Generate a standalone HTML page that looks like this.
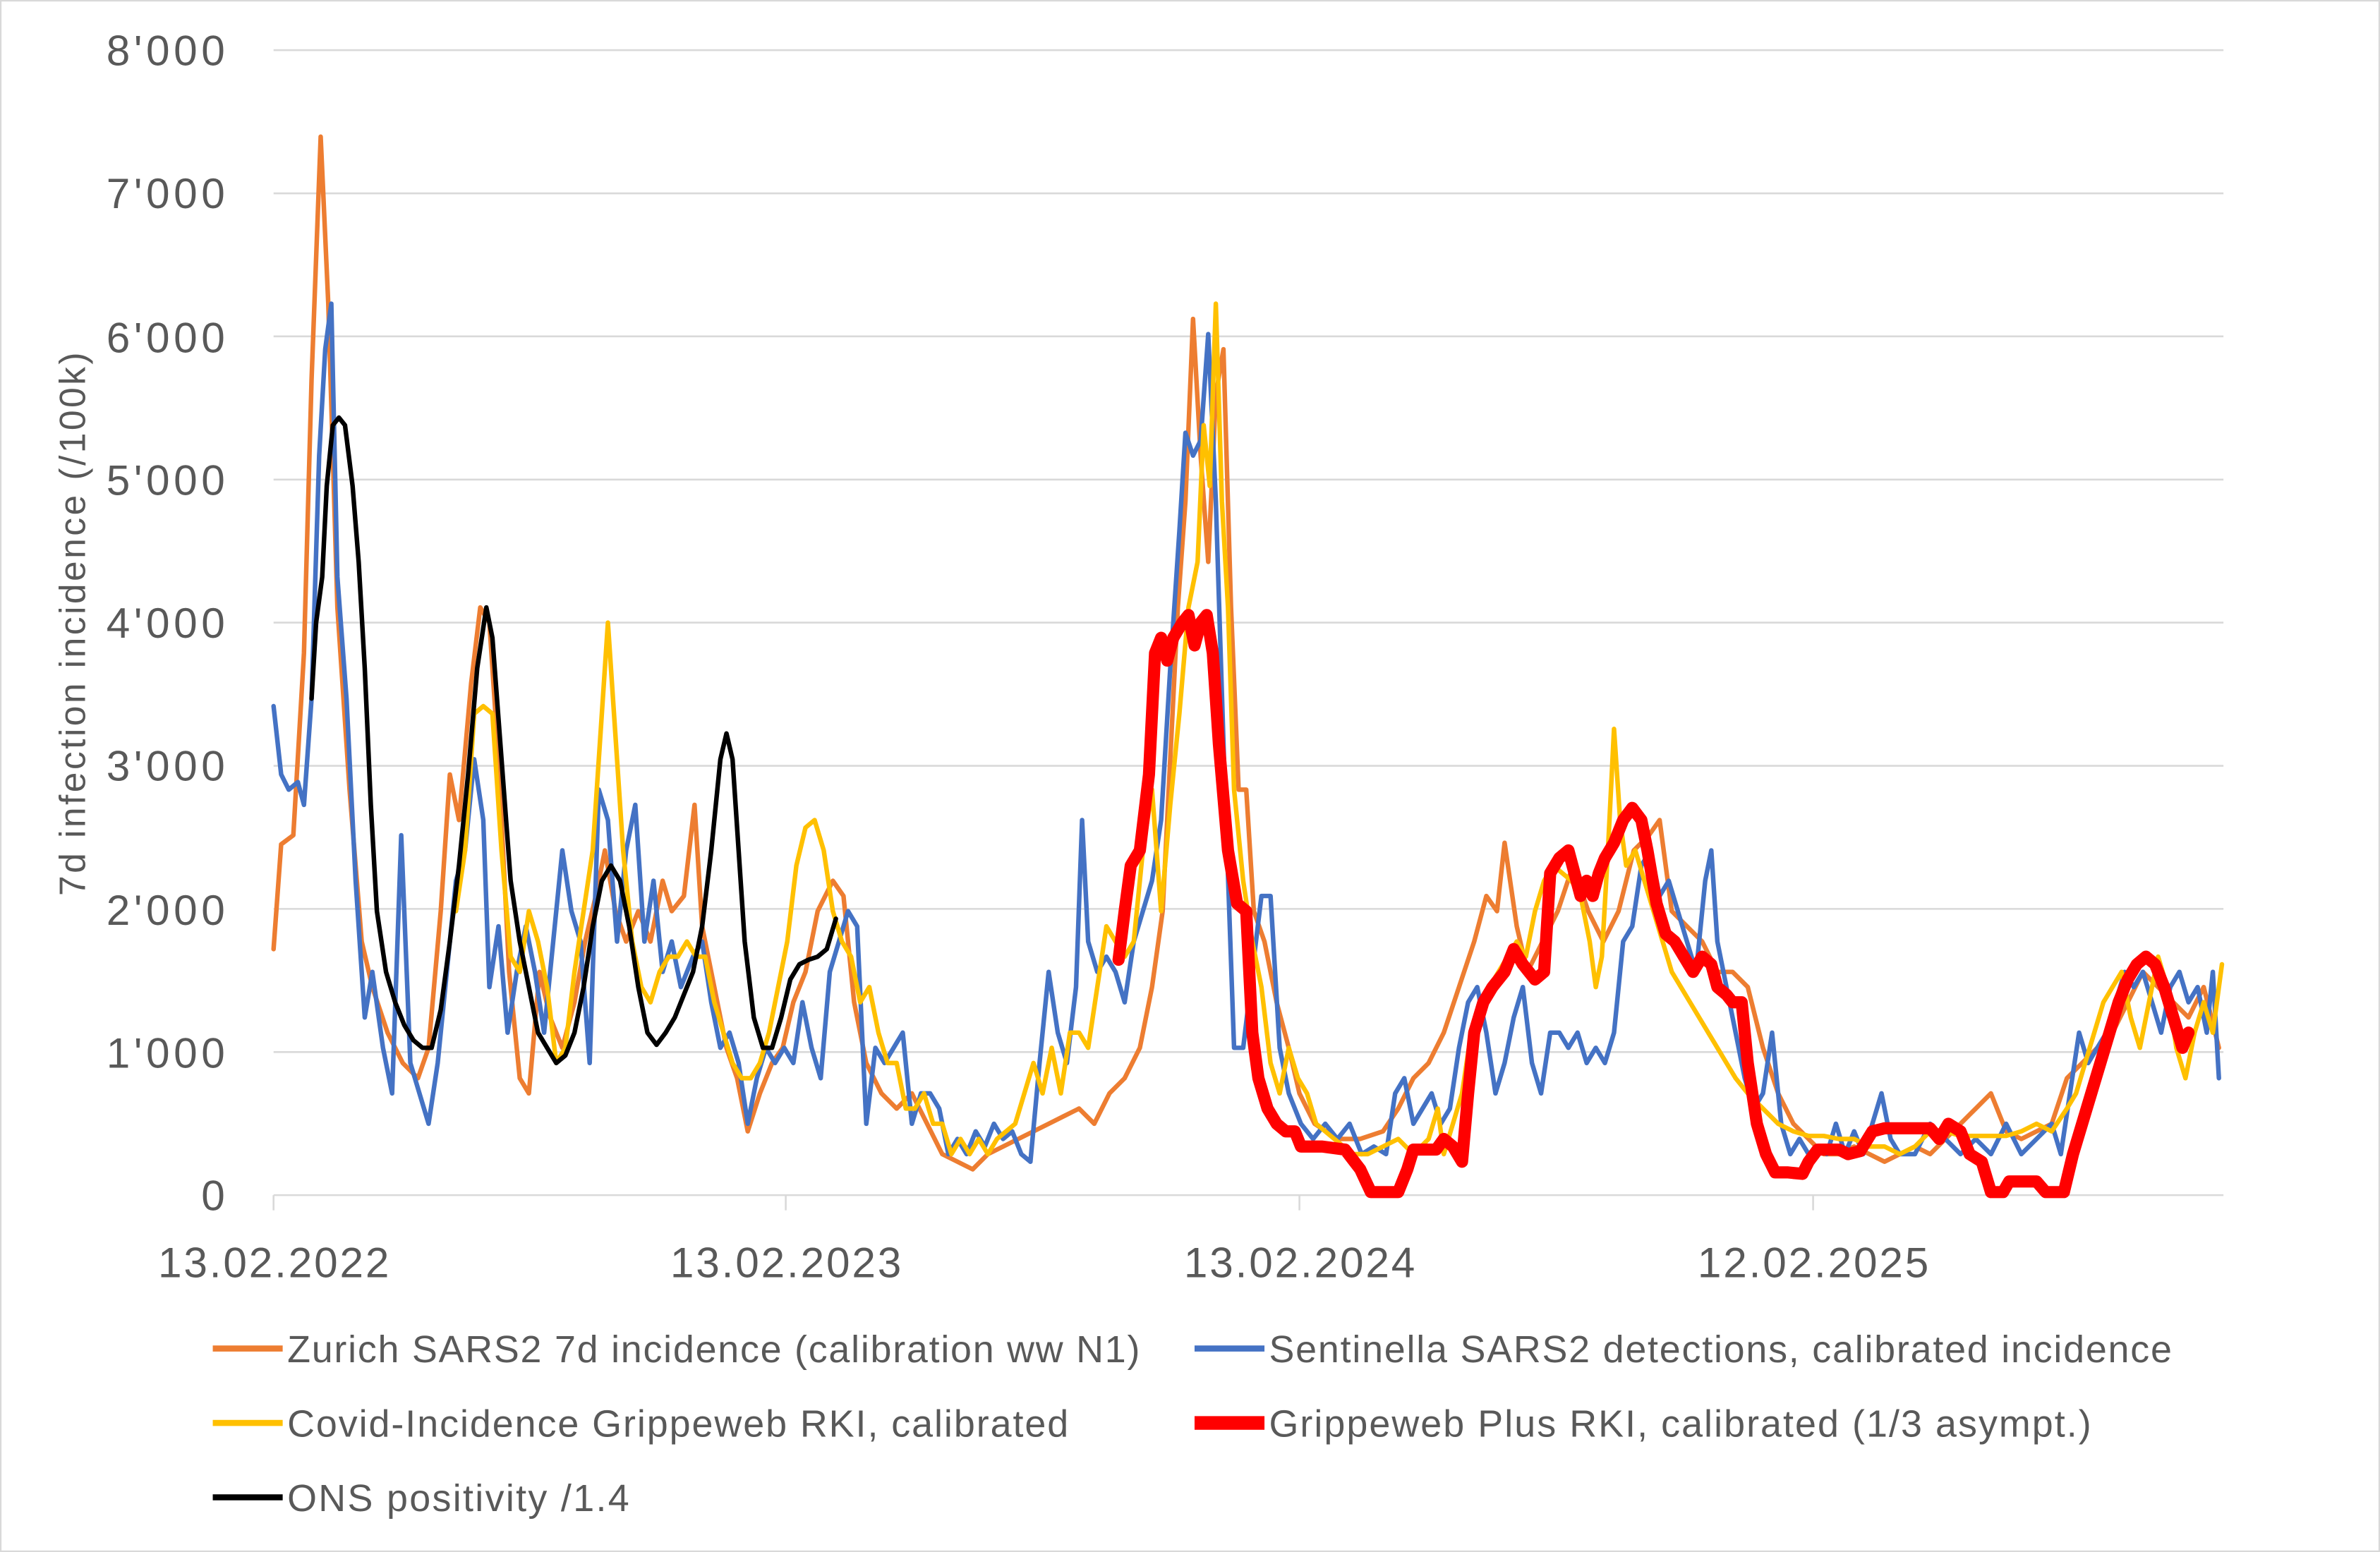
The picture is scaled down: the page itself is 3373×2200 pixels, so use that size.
<!DOCTYPE html>
<html><head><meta charset="utf-8"><style>html,body{margin:0;padding:0;background:#fff}svg{display:block}</style></head><body>
<svg width="3373" height="2200" viewBox="0 0 1566 1022" preserveAspectRatio="none" xmlns="http://www.w3.org/2000/svg" font-family="Liberation Sans, sans-serif">
<rect x="0.5" y="0.5" width="1565" height="1021" fill="#fff" stroke="#d9d9d9"/>
<g stroke="#d9d9d9" stroke-width="1.2">
<line x1="180" x2="1463" y1="33" y2="33"/><line x1="180" x2="1463" y1="127.3" y2="127.3"/><line x1="180" x2="1463" y1="221.5" y2="221.5"/><line x1="180" x2="1463" y1="315.8" y2="315.8"/><line x1="180" x2="1463" y1="410" y2="410"/><line x1="180" x2="1463" y1="504.3" y2="504.3"/><line x1="180" x2="1463" y1="598.5" y2="598.5"/><line x1="180" x2="1463" y1="692.8" y2="692.8"/><line x1="180" x2="1463" y1="787" y2="787"/>
<line x1="180" x2="180" y1="787" y2="797"/><line x1="517" x2="517" y1="787" y2="797"/><line x1="855" x2="855" y1="787" y2="797"/><line x1="1193" x2="1193" y1="787" y2="797"/>
</g>
<g font-size="28" fill="#595959" text-anchor="end">
<text x="148" y="43" textLength="78">8'000</text><text x="148" y="137" textLength="78">7'000</text><text x="148" y="232" textLength="78">6'000</text><text x="148" y="326" textLength="78">5'000</text><text x="148" y="420" textLength="78">4'000</text><text x="148" y="514" textLength="78">3'000</text><text x="148" y="609" textLength="78">2'000</text><text x="148" y="703" textLength="78">1'000</text><text x="148" y="797">0</text>
</g>
<g font-size="28" fill="#595959" text-anchor="middle">
<text x="180" y="841" textLength="152">13.02.2022</text><text x="517" y="841" textLength="152">13.02.2023</text><text x="855" y="841" textLength="152">13.02.2024</text><text x="1193" y="841" textLength="152">12.02.2025</text>
</g>
<text transform="translate(56,411) rotate(-90)" font-size="24" fill="#595959" text-anchor="middle" textLength="358">7d infection incidence (/100k)</text>
<g fill="none" stroke-linejoin="round" stroke-linecap="round">
<polyline stroke="#ed7d31" stroke-width="3" points="180,625 185,556 193,550 200,430 205,250 211,90 216,200 222,400 230,520 238,620 245,650 255,680 265,700 275,710 282,690 290,600 296,510 302,540 310,450 316,400 322,410 328,500 335,640 342,710 348,720 355,640 362,670 370,690 378,660 385,620 392,590 398,560 405,600 412,620 420,600 428,620 436,580 442,600 450,590 457,530 462,610 470,650 478,690 485,710 492,745 500,720 508,700 515,690 522,660 530,640 538,600 548,580 555,590 562,660 570,700 580,720 590,730 600,720 610,740 620,760 630,765 640,770 650,760 660,755 670,750 680,745 690,740 700,735 710,730 720,740 730,720 740,710 750,690 758,650 765,600 770,500 775,400 780,330 785,210 790,300 795,370 800,260 805,230 810,400 815,520 820,520 825,600 832,620 840,660 848,690 855,720 865,740 880,750 895,750 910,745 920,730 930,710 940,700 950,680 960,650 970,620 978,590 985,600 990,555 998,610 1005,640 1015,620 1025,600 1035,570 1045,600 1055,620 1065,600 1075,560 1085,550 1092,540 1100,600 1110,610 1120,620 1130,640 1140,640 1150,650 1160,690 1170,720 1180,740 1190,750 1200,760 1210,760 1220,755 1230,760 1240,765 1250,760 1260,755 1270,760 1280,750 1290,740 1300,730 1310,720 1320,745 1330,750 1340,745 1350,740 1360,710 1370,700 1380,690 1390,680 1400,660 1410,640 1420,650 1430,660 1440,670 1450,650 1460,690"/>
<polyline stroke="#4472c4" stroke-width="3" points="180,465 185,510 190,520 196,515 200,530 205,460 210,300 214,230 218,200 222,380 228,460 234,580 240,670 245,640 252,690 258,720 264,550 270,700 276,720 282,740 288,700 294,640 300,580 306,560 312,500 318,540 322,650 328,610 334,680 340,640 346,610 352,640 358,680 364,620 370,560 376,600 382,620 388,700 394,520 400,540 406,620 412,560 418,530 424,620 430,580 436,640 442,620 448,650 456,630 462,620 468,660 474,690 480,680 486,700 492,740 498,710 504,690 510,700 516,690 522,700 528,660 534,690 540,710 546,640 552,620 558,600 564,610 570,740 576,690 582,700 588,690 594,680 600,740 606,720 612,720 618,730 624,760 630,750 636,760 642,745 648,755 654,740 660,750 666,745 672,760 678,765 684,700 690,640 696,680 702,700 708,650 712,540 716,620 722,640 728,630 734,640 740,660 746,620 752,600 758,580 764,540 770,440 776,350 780,285 785,300 790,290 795,220 800,330 806,520 812,690 818,690 824,640 830,590 836,590 842,690 848,720 856,740 864,750 872,740 880,750 888,740 896,760 904,755 912,760 918,720 924,710 930,740 936,730 942,720 948,740 954,730 960,690 966,660 972,650 978,680 984,720 990,700 996,670 1002,650 1008,700 1014,720 1020,680 1026,680 1032,690 1038,680 1044,700 1050,690 1056,700 1062,680 1068,620 1074,610 1080,570 1086,560 1092,590 1098,580 1104,600 1110,620 1116,640 1122,580 1126,560 1130,620 1136,650 1142,680 1148,710 1154,730 1160,720 1166,680 1172,740 1178,760 1184,750 1190,760 1196,755 1202,760 1208,740 1214,760 1220,745 1226,760 1232,740 1238,720 1244,750 1250,760 1260,760 1270,740 1280,750 1290,760 1300,750 1310,760 1320,740 1330,760 1340,750 1350,740 1356,760 1362,720 1368,680 1374,700 1380,690 1386,680 1392,660 1398,640 1404,650 1410,640 1416,660 1422,680 1428,650 1434,640 1440,660 1446,650 1452,680 1456,640 1460,710"/>
<polyline stroke="#ffc000" stroke-width="3" points="300,600 306,560 312,470 318,465 324,470 330,560 336,630 342,640 348,600 354,620 360,650 366,700 372,690 378,640 384,600 390,560 396,470 400,410 404,470 410,560 416,620 422,650 428,660 434,640 440,630 446,630 452,620 458,630 464,630 470,660 476,680 482,700 488,710 494,710 500,700 506,680 512,650 518,620 524,570 530,545 536,540 542,560 548,600 554,620 560,630 566,660 572,650 578,680 584,700 590,700 596,730 602,730 608,720 614,740 620,740 626,760 632,750 638,760 644,750 650,760 656,750 662,745 668,740 674,720 680,700 686,720 692,690 698,720 704,680 710,680 716,690 722,650 728,610 734,620 740,630 746,620 752,560 758,520 764,600 770,530 776,470 782,400 788,370 792,280 796,320 800,200 804,330 808,400 812,520 818,580 824,620 830,650 836,700 842,720 848,690 854,710 860,720 866,740 872,745 878,750 890,760 900,760 910,755 920,750 930,760 940,750 946,730 950,760 956,740 962,720 968,680 974,660 980,650 986,640 992,630 998,620 1004,630 1010,600 1016,580 1022,570 1028,575 1034,580 1040,590 1046,620 1050,650 1054,630 1058,560 1062,480 1066,540 1070,570 1076,560 1082,580 1088,600 1094,620 1100,640 1106,650 1112,660 1118,670 1124,680 1130,690 1136,700 1142,710 1150,720 1160,730 1170,740 1180,745 1190,748 1200,748 1210,750 1220,750 1230,755 1240,755 1250,760 1260,755 1270,745 1280,745 1290,748 1300,748 1310,748 1320,748 1330,745 1340,740 1350,745 1360,730 1366,720 1372,700 1378,680 1384,660 1390,650 1396,640 1402,670 1408,690 1414,660 1420,630 1426,650 1432,690 1438,710 1444,680 1450,660 1456,680 1462,635"/>
<polyline stroke="#ff0000" stroke-width="8" points="736,632 740,600 744,570 750,560 756,510 760,430 764,420 768,435 772,420 778,410 782,405 786,425 790,410 794,405 798,430 802,490 808,560 814,595 820,600 824,680 828,710 834,730 840,740 846,745 852,745 856,755 870,755 885,757 895,770 902,785 920,785 926,770 930,757 945,757 950,750 956,755 962,765 966,720 970,680 976,660 982,650 990,640 996,625 1002,635 1010,645 1016,640 1020,575 1026,565 1032,560 1036,575 1040,590 1044,580 1048,590 1052,575 1056,565 1062,555 1068,540 1074,532 1080,540 1084,560 1090,595 1096,615 1102,620 1108,630 1114,640 1120,630 1126,635 1130,650 1136,655 1140,660 1146,660 1150,700 1156,740 1162,760 1168,772 1176,772 1186,773 1190,765 1196,757 1210,757 1216,760 1224,758 1232,745 1240,743 1270,743 1276,750 1282,740 1290,745 1296,760 1304,765 1310,785 1318,785 1322,778 1340,778 1346,785 1358,785 1364,760 1370,740 1376,720 1382,700 1388,680 1394,660 1400,645 1406,635 1412,630 1418,635 1424,650 1430,670 1436,690 1440,680"/>
<polyline stroke="#000" stroke-width="3" points="205,460 208,410 212,380 215,320 219,280 223,275 227,280 232,320 236,370 240,440 244,530 248,600 254,640 260,660 266,675 272,685 278,690 284,690 290,665 296,620 302,570 308,510 314,440 320,400 324,420 330,500 336,580 342,620 348,650 354,680 360,690 366,700 372,695 378,680 384,650 390,610 396,580 402,570 408,580 414,610 420,650 426,680 432,688 438,680 444,670 450,655 456,640 462,610 468,560 474,500 478,483 482,500 486,560 490,620 496,670 502,690 508,690 514,670 520,645 526,635 532,632 538,630 544,625 550,605"/>
</g>
<g stroke-width="4">
<line x1="140" x2="186" y1="888" y2="888" stroke="#ed7d31"/>
<line x1="786" x2="832" y1="888" y2="888" stroke="#4472c4"/>
<line x1="140" x2="186" y1="937" y2="937" stroke="#ffc000"/>
<line x1="786" x2="832" y1="937" y2="937" stroke="#ff0000" stroke-width="9"/>
<line x1="140" x2="186" y1="986" y2="986" stroke="#000"/>
</g>
<g font-size="25" fill="#595959">
<text x="189" y="897" textLength="561">Zurich SARS2 7d incidence (calibration ww N1)</text>
<text x="835" y="897" textLength="594">Sentinella SARS2 detections, calibrated incidence</text>
<text x="189" y="946" textLength="514">Covid-Incidence Grippeweb RKI, calibrated</text>
<text x="835" y="946" textLength="541">Grippeweb Plus RKI, calibrated (1/3 asympt.)</text>
<text x="189" y="995" textLength="225">ONS positivity /1.4</text>
</g>
</svg>
</body></html>
